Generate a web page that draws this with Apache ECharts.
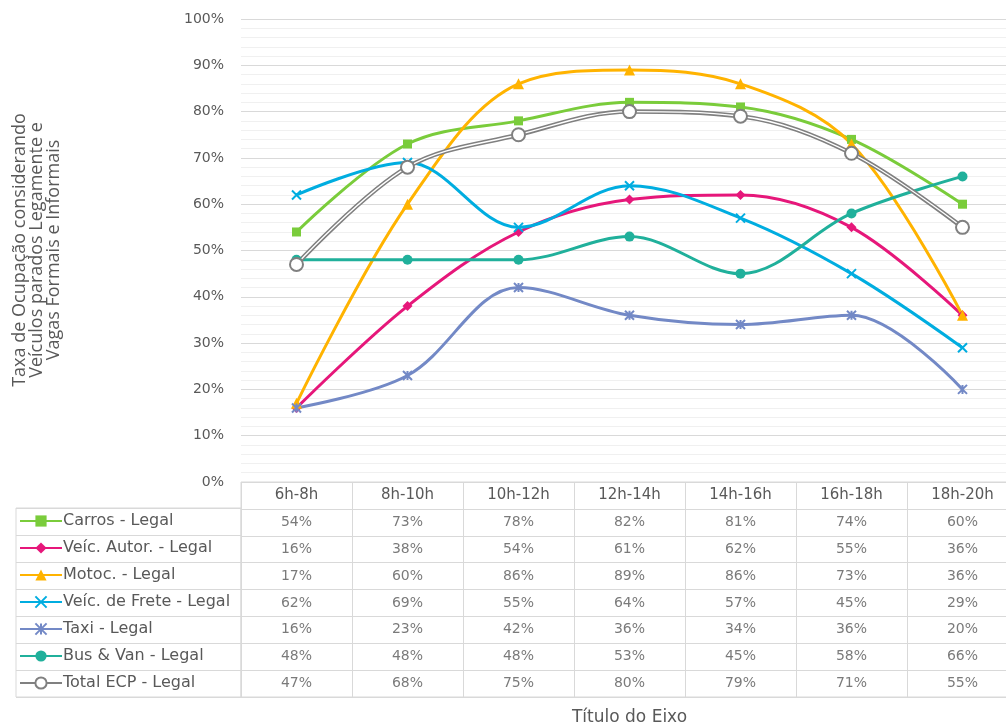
<!DOCTYPE html>
<html>
<head>
<meta charset="utf-8">
<script src="https://cdn.jsdelivr.net/npm/echarts@6/dist/echarts.min.js"></script>
<style>
  html, body { margin: 0; padding: 0; background: #fff; }
  #chart { width: 1006px; height: 723px; }
</style>
</head>
<body>
<div id="chart"></div>
<script>
// categorias (faixas horárias)
const horarios = ['6h-8h', '8h-10h', '10h-12h', '12h-14h', '14h-16h', '16h-18h', '18h-20h'];

// taxa de ocupação por tipo de veículo
const carros = [0.54, 0.73, 0.78, 0.82, 0.81, 0.74, 0.60];
const veicAutor = [0.16, 0.38, 0.54, 0.61, 0.62, 0.55, 0.36];
const motoc = [0.17, 0.60, 0.86, 0.89, 0.86, 0.73, 0.36];
const veicFrete = [0.62, 0.69, 0.55, 0.64, 0.57, 0.45, 0.29];
const taxi = [0.16, 0.23, 0.42, 0.36, 0.34, 0.36, 0.20];
const busVan = [0.48, 0.48, 0.48, 0.53, 0.45, 0.58, 0.66];
const totalECP = [0.47, 0.68, 0.75, 0.80, 0.79, 0.71, 0.55];

const nomes = ['Carros - Legal', 'Veíc. Autor. - Legal', 'Motoc. - Legal', 'Veíc. de Frete - Legal',
  'Taxi - Legal', 'Bus & Van - Legal', 'Total ECP - Legal'];
const valores = [carros, veicAutor, motoc, veicFrete, taxi, busVan, totalECP];

const fonte = 'DejaVu Sans';
const corTexto = '#595959';
const corGrade = '#d9d9d9';

const xIcon = 'path://M0,0L10,10M10,0L0,10';
const starIcon = 'path://M5,0L5,10M0,0L10,10M10,0L0,10';

// estilo de cada série
const estilos = [
  { color: '#7ACC3B', symbol: 'rect', size: 9 },
  { color: '#E6177A', symbol: 'diamond', size: 10 },
  { color: '#FFB300', symbol: 'triangle', size: 11 },
  { color: '#00ADE0', symbol: xIcon, size: 9, stroke: true },
  { color: '#7389C6', symbol: starIcon, size: 9, stroke: true },
  { color: '#20B09B', symbol: 'circle', size: 10 },
  { color: '#808080', symbol: 'circle', size: 13, hollow: true }
];

const chartDom = document.getElementById('chart');
const myChart = echarts.init(chartDom, null, { renderer: 'canvas' });

const series = nomes.map((nome, i) => {
  const st = estilos[i];
  let itemStyle = { color: st.color };
  if (st.stroke) itemStyle = { color: st.color, borderColor: st.color, borderWidth: 2 };
  if (st.hollow) itemStyle = { color: '#fff', borderColor: st.color, borderWidth: 2 };
  return {
    name: nome,
    type: 'line',
    xAxisIndex: 0,
    yAxisIndex: 0,
    data: valores[i],
    smooth: 0.35,
    symbol: st.symbol,
    symbolSize: st.size,
    showSymbol: true,
    lineStyle: { color: st.color, width: st.hollow ? 4.5 : 3 },
    itemStyle: itemStyle,
    z: 3
  };
});

// linha branca interna (linha dupla do Total ECP)
series.push({
  name: 'total-inner',
  type: 'line',
  xAxisIndex: 0,
  yAxisIndex: 0,
  data: totalECP,
  smooth: 0.35,
  symbol: 'none',
  lineStyle: { color: '#fff', width: 1.3 },
  silent: true,
  z: 3
});

// valores da tabela de dados
const tabela = [];
valores.forEach((arr, r) => {
  arr.forEach((v, c) => tabela.push([horarios[c], nomes[r], v]));
});
series.push({
  name: 'tabela',
  type: 'scatter',
  xAxisIndex: 1,
  yAxisIndex: 1,
  data: tabela,
  symbolSize: 0,
  label: {
    show: true,
    position: 'inside',
    formatter: p => Math.round(p.value[2] * 100) + '%',
    color: corTexto,
    fontFamily: fonte,
    fontSize: 14
  },
  silent: true
});
// coluna da legenda (apenas linhas)
series.push({
  name: 'legenda-col',
  type: 'scatter',
  xAxisIndex: 2,
  yAxisIndex: 2,
  data: [],
  silent: true
});

const option = {
  animation: false,
  backgroundColor: '#fff',
  textStyle: { fontFamily: fonte },
  legend: {
    data: nomes,
    orient: 'vertical',
    left: 19,
    top: 513,
    padding: 0,
    itemGap: 11,
    itemWidth: 42,
    itemHeight: 14,
    textStyle: { color: corTexto, fontFamily: fonte, fontSize: 16, padding: [0, 0, 0, -4] },
    selectedMode: false
  },
  grid: [
    { left: 241, width: 777, top: 19, height: 463, outerBoundsMode: 'none', containLabel: false },
    { left: 241, width: 777, top: 482, height: 215, show: true, borderColor: corGrade, borderWidth: 1, outerBoundsMode: 'none', containLabel: false },
    { left: 16, width: 225, top: 508, height: 189, show: true, borderColor: corGrade, borderWidth: 1, outerBoundsMode: 'none', containLabel: false }
  ],
  xAxis: [
    {
      gridIndex: 0,
      type: 'category',
      data: horarios,
      boundaryGap: true,
      axisLine: { show: false },
      axisTick: { show: false },
      axisLabel: { color: corTexto, fontFamily: fonte, fontSize: 15, margin: 6 }
    },
    {
      gridIndex: 1,
      type: 'category',
      data: horarios,
      boundaryGap: true,
      axisLine: { show: false },
      axisTick: { show: false },
      axisLabel: { show: false },
      splitLine: { show: true, lineStyle: { color: corGrade, width: 1 } },
      name: 'Título do Eixo',
      nameLocation: 'middle',
      nameGap: 12,
      nameTextStyle: { color: corTexto, fontFamily: fonte, fontSize: 17 }
    },
    {
      gridIndex: 2,
      type: 'value',
      show: false
    }
  ],
  yAxis: [
    {
      gridIndex: 0,
      type: 'value',
      min: 0,
      max: 1,
      interval: 0.1,
      axisLine: { show: false },
      axisTick: { show: false },
      axisLabel: {
        color: corTexto,
        fontFamily: fonte,
        fontSize: 14,
        margin: 17,
        formatter: v => Math.round(v * 100) + '%'
      },
      splitLine: { show: true, lineStyle: { color: corGrade, width: 1 } },
      minorTick: { show: false, splitNumber: 5 },
      minorSplitLine: { show: true, lineStyle: { color: '#f0f0f0', width: 1 } }
    },
    {
      gridIndex: 1,
      type: 'category',
      data: [''].concat(nomes),
      inverse: true,
      axisLine: { show: false },
      axisTick: { show: false },
      axisLabel: { show: false },
      splitLine: { show: true, lineStyle: { color: corGrade, width: 1 } }
    },
    {
      gridIndex: 2,
      type: 'category',
      data: nomes,
      inverse: true,
      axisLine: { show: false },
      axisTick: { show: false },
      axisLabel: { show: false },
      splitLine: { show: true, lineStyle: { color: corGrade, width: 1 } }
    }
  ],
  graphic: [
    {
      type: 'text',
      x: 37,
      y: 250,
      rotation: Math.PI / 2,
      style: {
        text: 'Taxa de Ocupação considerando\nVeículos parados Legamente e\nVagas Formais e Informais',
        fill: corTexto,
        font: '18px "Open Sans"',
        lineHeight: 17,
        align: 'center',
        verticalAlign: 'middle'
      }
    }
  ],
  series: series
};

myChart.setOption(option);
</script>
</body>
</html>
